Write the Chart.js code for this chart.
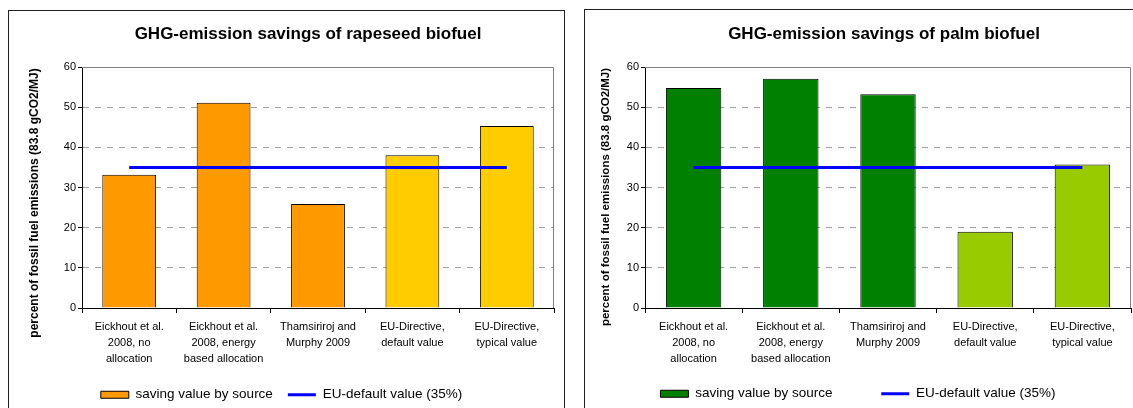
<!DOCTYPE html>
<html><head><meta charset="utf-8">
<script src="https://cdn.jsdelivr.net/npm/chart.js@4.4.1/dist/chart.umd.min.js"></script>
<style>
html,body{margin:0;padding:0;width:1133px;height:408px;overflow:hidden;background:#fff;}
.box{position:absolute;border:1px solid #222;background:#fff;}
#box1{left:8px;top:10px;width:555px;height:420px;}
#box2{left:584px;top:9px;width:620px;height:420px;}
.wrap{position:absolute;}
</style></head><body>
<div class="box" id="box1"></div>
<div class="box" id="box2"></div>
<div class="wrap" style="left:9px;top:11px;width:554px;height:402px"><canvas id="c1"></canvas></div>
<div class="wrap" style="left:585px;top:10px;width:548px;height:402px"><canvas id="c2"></canvas></div>
<script>
const categories = [
  ["Eickhout et al.", "2008, no", "allocation"],
  ["Eickhout et al.", "2008, energy", "based allocation"],
  ["Thamsiriroj and", "Murphy 2009"],
  ["EU-Directive,", "default value"],
  ["EU-Directive,", "typical value"]
];
const rapeseedSavings = [33.2, 51.1, 25.9, 38.0, 45.3];
const palmSavings = [54.8, 57.1, 53.2, 19.0, 35.7];
const euDefault = [35, 35, 35, 35, 35];
const yTicks = [0, 10, 20, 30, 40, 50, 60];
const rapeseedColors = ["#FF9900", "#FF9900", "#FF9900", "#FFCC00", "#FFCC00"];
const palmColors = ["#008000", "#008000", "#008000", "#99CC00", "#99CC00"];
const rapeseedTitle = "GHG-emission savings of rapeseed biofuel";
const palmTitle = "GHG-emission savings of palm biofuel";
const yAxisTitle = "percent of fossil fuel emissions (83.8 gCO2/MJ)";
const barLabel = "saving value by source";
const lineLabel = "EU-default value (35%)";

const FONT = "'Liberation Sans', Arial, sans-serif";

const titlePlugin = {
  id: 'xtitle',
  afterDraw(chart, args, opts) {
    const ctx = chart.ctx;
    ctx.save();
    ctx.fillStyle = "#000";
    ctx.textAlign = "center";
    ctx.textBaseline = "middle";
    ctx.font = "bold 17px " + FONT;
    ctx.fillText(opts.text, opts.x, opts.y);
    ctx.translate(opts.yx, opts.yy);
    ctx.rotate(-Math.PI / 2);
    ctx.font = "bold " + opts.ySize + "px " + FONT;
    ctx.fillText(opts.yText, 0, 0);
    ctx.restore();
  }
};
const framePlugin = {
  id: 'frame',
  beforeDatasetsDraw(chart) {
    const {ctx, chartArea: a} = chart;
    ctx.save();
    ctx.strokeStyle = "#808080";
    ctx.lineWidth = 1;
    ctx.beginPath();
    ctx.moveTo(a.left, a.top + 0.5);
    ctx.lineTo(a.right - 0.5, a.top + 0.5);
    ctx.lineTo(a.right - 0.5, a.bottom);
    ctx.stroke();
    ctx.restore();
  }
};

function makeChart(id, values, colors, title, p) {
  const legendPad = 15;
  const legendH = 13.5 + legendPad + 10;
  const canvasH = 402;
  const padBottom = 1.5;
  const xAxisH = canvasH - padBottom - legendH - p.plotBottom;
  return new Chart(document.getElementById(id), {
    data: {
      labels: categories,
      datasets: [
        { type: 'line', label: lineLabel, data: euDefault, borderColor: '#0000FF', backgroundColor: '#0000FF',
          borderWidth: 3, pointRadius: 0, order: 0, pointStyle: 'line' },
        { type: 'bar', label: barLabel, data: values, backgroundColor: colors, borderColor: '#000',
          borderWidth: 1, order: 1, barPercentage: p.barPct, categoryPercentage: 1 }
      ]
    },
    options: {
      responsive: true, maintainAspectRatio: false, animation: false, devicePixelRatio: 1,
      layout: { padding: { top: p.plotTop, right: p.padRight, bottom: padBottom, left: 0 } },
      scales: {
        x: {
          offset: true,
          grid: { display: true, drawOnChartArea: false, drawTicks: true, tickLength: 5, tickColor: '#000', color: '#000', offset: true },
          border: { display: true, color: '#000', width: 1 },
          ticks: { color: '#000', padding: 6, maxRotation: 0, autoSkip: false,
            font: { family: FONT, size: 11, lineHeight: '16px' } },
          afterFit(s) { s.height = xAxisH; }
        },
        y: {
          min: 0, max: 60,
          afterBuildTicks(s) { s.ticks = yTicks.map(v => ({ value: v })); },
          grid: {
            color: c => (c.tick && (c.tick.value === 0 || c.tick.value === 60)) ? 'rgba(0,0,0,0)' : '#A0A0A0',
            lineWidth: 1, drawTicks: true, tickLength: 4, tickColor: '#000'
          },
          border: { display: true, color: '#000', width: 1, dash: [6, 6] },
          ticks: { color: '#000', padding: 2, font: { family: FONT, size: 11 } },
          title: { display: false, text: yAxisTitle },
          afterFit(s) { s.width = p.yAxisW; }
        }
      },
      plugins: {
        xtitle: { text: title, x: p.titleX, y: p.titleY, yText: yAxisTitle, yx: p.yTitleX, yy: p.yTitleY, ySize: p.yTitleSize },
        tooltip: { enabled: false },
        legend: {
          display: true, position: 'bottom',
          labels: {
            font: { family: FONT, size: 13.5 }, color: '#000', padding: legendPad,
            usePointStyle: true, pointStyleWidth: 28, boxHeight: 7,
            generateLabels(chart) {
              return [
                { text: barLabel + p.gap, fillStyle: colors[0], strokeStyle: '#000', lineWidth: 1, pointStyle: 'rect', datasetIndex: 1, hidden: false, fontColor: '#000' },
                { text: lineLabel, fillStyle: '#0000FF', strokeStyle: '#0000FF', lineWidth: 3, pointStyle: 'line', datasetIndex: 0, hidden: false, fontColor: '#000' }
              ];
            }
          }
        }
      }
    },
    plugins: [titlePlugin, framePlugin]
  });
}

makeChart('c1', rapeseedSavings, rapeseedColors, rapeseedTitle,
  { plotTop: 56, plotBottom: 297, padRight: 9, yAxisW: 73, barPct: 0.57, titleX: 299, titleY: 23,
    yTitleX: 26, yTitleY: 192, yTitleSize: 12, gap: '' });
makeChart('c2', palmSavings, palmColors, palmTitle,
  { plotTop: 57, plotBottom: 298, padRight: 2, yAxisW: 60, barPct: 0.57, titleX: 299, titleY: 24,
    yTitleX: 21, yTitleY: 187, yTitleSize: 11.5, gap: '         ' });
</script>
</body></html>
